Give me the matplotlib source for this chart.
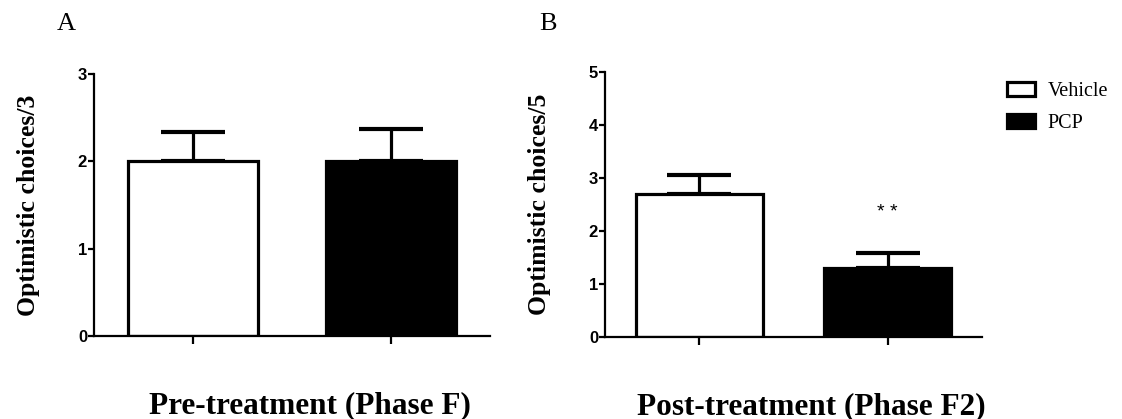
import matplotlib
matplotlib.use("Agg")
import matplotlib.pyplot as plt
from matplotlib.patches import Patch

# === Dati ===
groups = ["Vehicle", "PCP"]
bar_colors = ["white", "black"]

pre_means = [2.0, 2.0]
pre_sem = [0.34, 0.37]

post_means = [2.70, 1.30]
post_sem = [0.36, 0.29]
post_star = "* *"
star_y = 2.34

SERIF = "Liberation Serif"
SANS = "Liberation Sans"

fig = plt.figure(figsize=(11.22, 4.19), dpi=100)
axA = fig.add_axes([0.0838, 0.198, 0.3529, 0.6253])
axB = fig.add_axes([0.5392, 0.1957, 0.336, 0.6325])


def draw_panel(ax, means, sems, ymax, ylabel, xlabel, width):
    x = list(range(len(means)))
    ax.bar(x, means, width=width, color=bar_colors, edgecolor="black",
           linewidth=2.3, zorder=2)
    ax.errorbar(x, means, yerr=[[0] * len(sems), sems], fmt="none",
                ecolor="black", elinewidth=2.3, capsize=23, capthick=3,
                zorder=1)
    ax.set_xlim(-0.5, 1.5)
    ax.set_ylim(0, ymax)
    ax.set_yticks(range(ymax + 1))
    ax.set_xticks(x)
    ax.set_xticklabels([])
    for s in ["top", "right"]:
        ax.spines[s].set_visible(False)
    for s in ["left", "bottom"]:
        ax.spines[s].set_linewidth(1.6)
    ax.tick_params(axis="y", length=4, width=1.6, pad=1)
    ax.tick_params(axis="x", length=6, width=1.6)
    for lab in ax.get_yticklabels():
        lab.set_fontfamily(SANS)
        lab.set_fontweight("bold")
        lab.set_fontsize(12)
    ax.set_ylabel(ylabel, fontfamily=SERIF, fontweight="bold", fontsize=18.5,
                  labelpad=27)
    ax.set_xlabel(xlabel, fontfamily=SERIF, fontweight="bold", fontsize=22.5,
                  labelpad=30)
    ax.xaxis.label.set_x(0.546)


draw_panel(axA, pre_means, pre_sem, 3, "Optimistic choices/3",
           "Pre-treatment (Phase F)", 0.66)
draw_panel(axB, post_means, post_sem, 5, "Optimistic choices/5",
           "Post-treatment (Phase F2)", 0.675)

axB.text(1, star_y, post_star, ha="center", va="center", fontfamily=SANS,
         fontsize=14)

fig.text(66 / 1122, 1 - 24 / 419, "A", fontfamily=SERIF, fontsize=19,
         ha="center", va="center")
fig.text(548 / 1122, 1 - 24 / 419, "B", fontfamily=SERIF, fontsize=19,
         ha="center", va="center")

handles = [Patch(facecolor=c, edgecolor="black", linewidth=2.3)
           for c in bar_colors]
fig.legend(handles, groups, loc="upper left",
           bbox_to_anchor=(989 / 1122, 1 - 64 / 419), frameon=False,
           prop={"family": SERIF, "size": 14.5}, handlelength=1.4,
           handleheight=0.65, handletextpad=0.6, labelspacing=0.65)

fig.savefig("out.png", dpi=100)
